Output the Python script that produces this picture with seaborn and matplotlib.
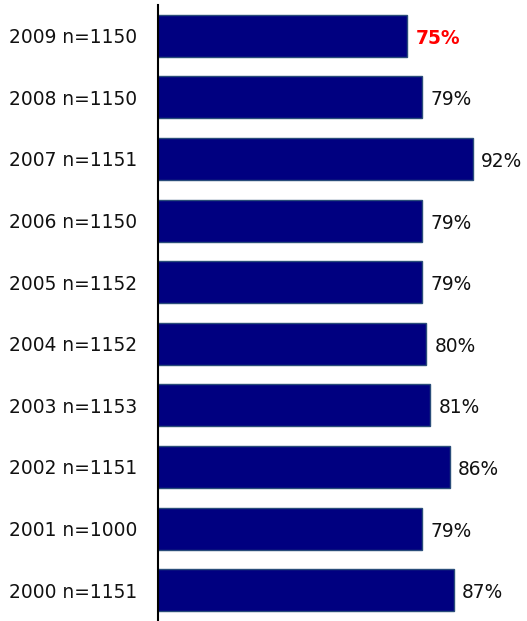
import matplotlib
matplotlib.use("Agg")
import matplotlib.pyplot as plt
import seaborn as sns
import pandas as pd

# 年份与样本量
years = ["2009", "2008", "2007", "2006", "2005", "2004", "2003", "2002", "2001", "2000"]
sizes = [1150, 1150, 1151, 1150, 1152, 1152, 1153, 1151, 1000, 1151]
values = [75, 79, 92, 79, 79, 80, 81, 86, 79, 87]

labels = [f"{y} n={n}" for y, n in zip(years, sizes)]
df = pd.DataFrame({"label": labels, "value": values})

sns.set_style("white")
plt.rcParams["font.family"] = ["DejaVu Sans"]

fig = plt.figure(figsize=(5.27, 6.21), dpi=100)
ax = fig.add_axes([158 / 527, 0.0, (520 - 158) / 527, 616 / 621])

sns.barplot(data=df, x="value", y="label", orient="h", ax=ax,
            color="#000080", edgecolor="#2a4d7a", linewidth=1.0,
            width=0.68, saturation=1)

# 数值标签
for i, v in enumerate(values):
    if i == 0:
        ax.text(v + 2.3, i + 0.04, f"{v}%", va="center", ha="left",
                fontsize=13.4, color="#ff0000", fontweight="bold")
    else:
        ax.text(v + 2.1, i + 0.04, f"{v}%", va="center", ha="left",
                fontsize=13.4, color="#111111")

ax.set_xlim(10.9, (520 - 115.8) / 3.882)
ax.set_ylim(9.5, -0.5)
ax.set_xlabel("")
ax.set_ylabel("")
ax.set_xticks([])
ax.tick_params(axis="y", length=0, pad=15, labelsize=13.4, labelcolor="#111111")
for t in ax.get_yticklabels():
    t.set_va("center_baseline")
for s in ["top", "right", "bottom"]:
    ax.spines[s].set_visible(False)
ax.spines["left"].set_color("black")
ax.spines["left"].set_linewidth(1.5)

fig.savefig("out.png", dpi=100)
